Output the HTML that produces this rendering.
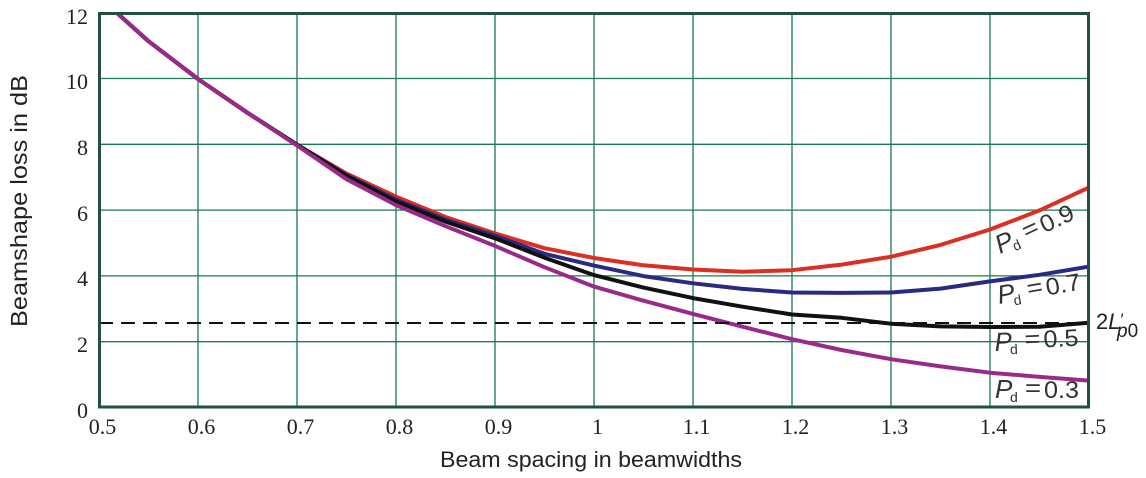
<!DOCTYPE html>
<html><head><meta charset="utf-8"><style>
html,body{margin:0;padding:0;background:#fff;}
svg{display:block;}
</style></head><body>
<svg width="1146" height="478" viewBox="0 0 1146 478" xmlns="http://www.w3.org/2000/svg">
<defs><clipPath id="pa"><rect x="99" y="13" width="990" height="395"/></clipPath></defs>
<rect width="1146" height="478" fill="#fff"/>
<g stroke="#1a7a52" stroke-width="1.3" fill="none">
<line x1="198" y1="13" x2="198" y2="407"/>
<line x1="297" y1="13" x2="297" y2="407"/>
<line x1="396" y1="13" x2="396" y2="407"/>
<line x1="495" y1="13" x2="495" y2="407"/>
<line x1="594" y1="13" x2="594" y2="407"/>
<line x1="693" y1="13" x2="693" y2="407"/>
<line x1="792" y1="13" x2="792" y2="407"/>
<line x1="891" y1="13" x2="891" y2="407"/>
<line x1="990" y1="13" x2="990" y2="407"/>
<line x1="99" y1="78.5" x2="1089" y2="78.5"/>
<line x1="99" y1="144.3" x2="1089" y2="144.3"/>
<line x1="99" y1="210.1" x2="1089" y2="210.1"/>
<line x1="99" y1="275.9" x2="1089" y2="275.9"/>
<line x1="99" y1="341.7" x2="1089" y2="341.7"/>
</g>
<g clip-path="url(#pa)" fill="none" stroke-width="4" stroke-linejoin="round" stroke-linecap="round">
<polyline stroke="#dc2e22" points="99,-3.1 148.5,41.2 198,79 247.5,112.8 297,144.7 346.5,173.6 396,196.6 445.5,217 495,233.4 544.5,248.2 594,258 643.5,265.3 693,269.5 742.5,271.8 792,270.2 841.5,264.6 891,256.7 940.5,244.9 990,229.5 1039.5,210.4 1089,187.4"/>
<polyline stroke="#2b2a82" points="99,-3.1 148.5,41.2 198,79 247.5,112.8 297,144.7 346.5,174.9 396,199.6 445.5,219.6 495,235.7 544.5,253.8 594,265.6 643.5,276.1 693,283.3 742.5,288.9 792,292.5 841.5,292.9 891,292.5 940.5,288.6 990,281.4 1039.5,274.8 1089,266.6"/>
<polyline stroke="#111111" points="99,-3.1 148.5,41.2 198,79 247.5,112.8 297,144.7 346.5,175.9 396,201.5 445.5,221.6 495,238.3 544.5,257.7 594,275.1 643.5,287.6 693,298.1 742.5,306.7 792,314.5 841.5,317.8 891,323.7 940.5,326.4 990,327 1039.5,326.7 1089,322.7"/>
<polyline stroke="#992a8a" points="99,-3.1 148.5,41.2 198,79 247.5,112.8 297,145.5 346.5,179.2 396,205.1 445.5,226.2 495,245.9 544.5,267.2 594,286.6 643.5,300.7 693,313.9 742.5,326.7 792,339.2 841.5,350 891,359.2 940.5,366.4 990,372.7 1039.5,376.9 1089,380.6"/>
</g>
<line x1="99" y1="323" x2="1089" y2="323" stroke="#111" stroke-width="2" stroke-dasharray="14,8"/>
<rect x="99.5" y="13.5" width="989" height="393.5" fill="none" stroke="#24503f" stroke-width="3"/>
<g font-family="Liberation Serif, serif" font-size="22" fill="#222" text-anchor="end">
<text x="88" y="24">12</text>
<text x="88" y="89">10</text>
<text x="88" y="155">8</text>
<text x="88" y="221">6</text>
<text x="88" y="286">4</text>
<text x="88" y="352">2</text>
<text x="88" y="418">0</text>
</g>
<g font-family="Liberation Serif, serif" font-size="22" fill="#222" text-anchor="middle">
<text x="102.5" y="434">0.5</text>
<text x="201.5" y="434">0.6</text>
<text x="300.5" y="434">0.7</text>
<text x="399.5" y="434">0.8</text>
<text x="498.5" y="434">0.9</text>
<text x="597.5" y="434">1</text>
<text x="696.5" y="434">1.1</text>
<text x="795.5" y="434">1.2</text>
<text x="894.5" y="434">1.3</text>
<text x="993.5" y="434">1.4</text>
<text x="1092.5" y="434">1.5</text>
</g>
<text x="591" y="467" font-family="Liberation Sans, sans-serif" font-size="22" fill="#222" text-anchor="middle" textLength="302" lengthAdjust="spacingAndGlyphs">Beam spacing in beamwidths</text>
<text transform="translate(27,201) rotate(-90)" x="0" y="0" font-family="Liberation Sans, sans-serif" font-size="23" fill="#222" text-anchor="middle" textLength="252" lengthAdjust="spacingAndGlyphs">Beamshape loss in dB</text>
<g font-family="Liberation Sans, sans-serif" fill="#333">
<g transform="translate(1000,254) rotate(-25)">
<text x="0" y="0" font-size="26" font-style="italic">P</text>
<text x="15" y="4" font-size="14">d</text>
<text x="30" y="-2" font-size="24" textLength="16" lengthAdjust="spacingAndGlyphs">=</text>
<text x="49" y="0" font-size="24" textLength="35" lengthAdjust="spacingAndGlyphs">0.9</text>
</g>
<g transform="translate(999,304) rotate(-10)">
<text x="0" y="0" font-size="26" font-style="italic">P</text>
<text x="15" y="4" font-size="14">d</text>
<text x="30" y="-2" font-size="24" textLength="16" lengthAdjust="spacingAndGlyphs">=</text>
<text x="49" y="0" font-size="24" textLength="35" lengthAdjust="spacingAndGlyphs">0.7</text>
</g>
<g transform="translate(995,351) rotate(-3)">
<text x="0" y="0" font-size="26" font-style="italic">P</text>
<text x="15" y="4" font-size="14">d</text>
<text x="30" y="-2" font-size="24" textLength="16" lengthAdjust="spacingAndGlyphs">=</text>
<text x="49" y="-1" font-size="24" textLength="35" lengthAdjust="spacingAndGlyphs">0.5</text>
</g>
<g transform="translate(995,398)">
<text x="0" y="0" font-size="26" font-style="italic">P</text>
<text x="15" y="4" font-size="14">d</text>
<text x="30" y="-2" font-size="24" textLength="16" lengthAdjust="spacingAndGlyphs">=</text>
<text x="49" y="0" font-size="24" textLength="35" lengthAdjust="spacingAndGlyphs">0.3</text>
</g>
<text x="1096" y="329" font-size="22" fill="#222">2<tspan font-style="italic">L</tspan><tspan font-size="17" dy="-4">′</tspan></text>
<text x="1117" y="337" font-size="19" fill="#222"><tspan font-style="italic">p</tspan>0</text>
</g>
</svg>
</body></html>
